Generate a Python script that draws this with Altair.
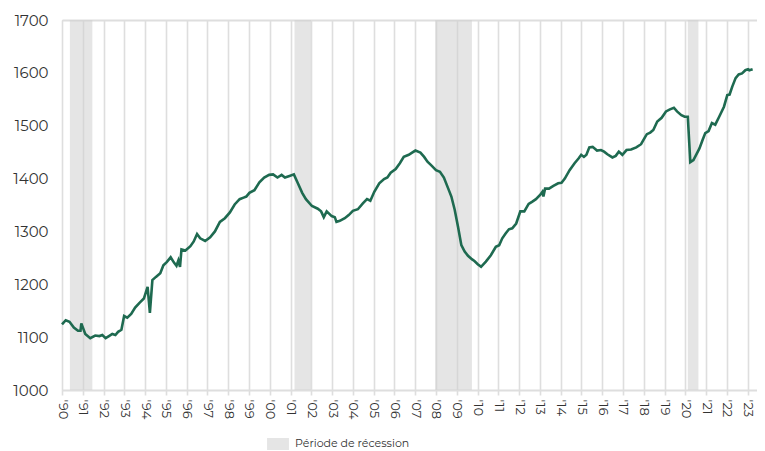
import altair as alt
import pandas as pd

# decimal years and values
years = [1990.00, 1990.18, 1990.36, 1990.57, 1990.77, 1990.89, 1990.93, 1991.12, 1991.36, 1991.60,
         1991.80, 1991.94, 1992.10, 1992.26, 1992.42, 1992.57, 1992.70, 1992.86, 1992.99, 1993.14,
         1993.33, 1993.52, 1993.73, 1993.94, 1994.12, 1994.23, 1994.35, 1994.52, 1994.73, 1994.88,
         1995.04, 1995.23, 1995.39, 1995.51, 1995.60, 1995.68, 1995.75, 1995.94, 1996.18, 1996.34,
         1996.50, 1996.65, 1996.89, 1997.13, 1997.36, 1997.60, 1997.84, 1998.08, 1998.31, 1998.55,
         1998.74, 1998.87, 1999.02, 1999.26, 1999.50, 1999.73, 1999.97, 2000.16, 2000.37, 2000.57,
         2000.73, 2000.95, 2001.16, 2001.32, 2001.56, 2001.74, 2002.03, 2002.31, 2002.47, 2002.60,
         2002.74, 2002.98, 2003.13, 2003.21, 2003.37, 2003.61, 2003.80, 2004.00, 2004.24, 2004.48,
         2004.68, 2004.84, 2005.03, 2005.27, 2005.50, 2005.66, 2005.82, 2006.06, 2006.26, 2006.45,
         2006.69, 2006.85, 2007.01, 2007.25, 2007.43, 2007.59, 2007.80, 2008.00, 2008.19, 2008.38,
         2008.59, 2008.74, 2008.90, 2009.06, 2009.22, 2009.38, 2009.54, 2009.74, 2009.85, 2010.01,
         2010.17, 2010.40, 2010.64, 2010.88, 2011.04, 2011.19, 2011.35, 2011.51, 2011.67, 2011.86,
         2012.06, 2012.25, 2012.46, 2012.62, 2012.81, 2013.01, 2013.12, 2013.17, 2013.25, 2013.44,
         2013.65, 2013.88, 2014.04, 2014.20, 2014.43, 2014.67, 2014.86, 2014.99, 2015.12, 2015.24,
         2015.38, 2015.54, 2015.75, 2015.94, 2016.09, 2016.25, 2016.49, 2016.65, 2016.80, 2016.97,
         2017.17, 2017.39, 2017.64, 2017.87, 2018.07, 2018.15, 2018.31, 2018.46, 2018.65, 2018.86,
         2019.07, 2019.26, 2019.45, 2019.60, 2019.81, 2019.97, 2020.12, 2020.24, 2020.39, 2020.52,
         2020.68, 2020.83, 2020.96, 2021.12, 2021.28, 2021.44, 2021.63, 2021.86, 2022.02, 2022.13,
         2022.26, 2022.42, 2022.57, 2022.73, 2022.89, 2023.02, 2023.08, 2023.24]

values = [1124, 1132, 1129, 1118, 1112, 1112, 1126, 1106, 1098, 1103,
          1102, 1104, 1098, 1102, 1106, 1104, 1110, 1114, 1140, 1137,
          1144, 1156, 1165, 1173, 1195, 1146, 1208, 1214, 1221, 1236,
          1242, 1251, 1241, 1235, 1245, 1233, 1266, 1264, 1272, 1281,
          1295, 1287, 1282, 1289, 1300, 1318, 1325, 1336, 1351, 1361,
          1364, 1366, 1373, 1378, 1393, 1402, 1407, 1408, 1402, 1407,
          1402, 1405, 1408, 1394, 1373, 1361, 1348, 1343, 1338, 1327,
          1338, 1329, 1327, 1318, 1320, 1325, 1331, 1339, 1342, 1353,
          1361, 1358, 1375, 1391, 1399, 1402, 1411, 1418, 1429, 1441,
          1445, 1449, 1453, 1449, 1441, 1432, 1424, 1416, 1413, 1402,
          1381, 1366, 1341, 1309, 1274, 1262, 1254, 1247, 1244, 1238,
          1233, 1243, 1255, 1271, 1274, 1287, 1296, 1304, 1306, 1315,
          1338, 1338, 1352, 1356, 1361, 1369, 1375, 1366, 1381, 1381,
          1386, 1391, 1392, 1400, 1416, 1429, 1438, 1445, 1441, 1445,
          1459, 1460, 1453, 1454, 1451, 1446, 1440, 1443, 1451, 1445,
          1454, 1455, 1459, 1465, 1479, 1484, 1487, 1492, 1508, 1515,
          1527, 1531, 1534, 1527, 1520, 1517, 1517, 1431, 1435, 1445,
          1457, 1473, 1486, 1490, 1505, 1502, 1517, 1536, 1558, 1559,
          1574, 1590, 1597, 1599, 1605, 1607, 1605, 1607]

rec_start = [1990.38, 2001.19, 2007.96, 2020.12]
rec_end = [1991.46, 2001.98, 2009.73, 2020.63]
rec_label = ["Période de récession"] * 4

tick_years = list(range(1990, 2024))
y_ticks = [1000, 1100, 1200, 1300, 1400, 1500, 1600, 1700]

line_df = pd.DataFrame({"year": years, "value": values})
rec_df = pd.DataFrame({"start": rec_start, "end": rec_end, "label": rec_label})

FONT = "Montserrat, Inter, sans-serif"
GRID = "#dedede"

x_scale = alt.Scale(domain=[1990, 2023.45], nice=False, zero=False)
y_scale = alt.Scale(domain=[1000, 1700], nice=False, zero=False)

x_axis = alt.Axis(
    values=tick_years,
    tickCount=34,
    labelExpr="\"'\" + slice(toString(datum.value), 2)",
    labelAngle=90,
    labelOverlap=False,
    labelFontSize=13,
    labelColor="#333333",
    labelFont=FONT,
    labelPadding=4,
    grid=True,
    gridColor=GRID,
    gridWidth=1.6,
    domainColor=GRID,
    domainWidth=2,
    tickColor=GRID,
    tickWidth=1.6,
    tickSize=5,
    title=None,
)

y_axis = alt.Axis(
    values=y_ticks,
    format="d",
    labelFontSize=15,
    labelColor="#333333",
    labelFont=FONT,
    labelPadding=14,
    domain=False,
    ticks=False,
    grid=True,
    gridColor=GRID,
    gridWidth=2,
    gridOpacity={"condition": {"test": "datum.value === 1700", "value": 1}, "value": 0},
    title=None,
)

rec = alt.Chart(rec_df).mark_rect(opacity=0.55).encode(
    x=alt.X("start:Q", scale=x_scale, axis=x_axis),
    x2="end:Q",
    y=alt.datum(1000, scale=y_scale, axis=y_axis),
    y2=alt.datum(1700),
    color=alt.Color(
        "label:N",
        scale=alt.Scale(range=["#d0d0d0"]),
        legend=alt.Legend(
            title=None,
            orient="none",
            legendX=205,
            legendY=413,
            padding=0,
            symbolType="M-1,-0.55H1V0.55H-1Z",
            symbolSize=480,
            symbolStrokeWidth=0,
            symbolOpacity=0.55,
            labelFontSize=11,
            labelFont=FONT,
            labelColor="#333333",
            labelOffset=6,
        ),
    ),
)

line = alt.Chart(line_df).mark_line(color="#1e6a50", strokeWidth=2.6).encode(
    x=alt.X("year:Q", scale=x_scale, axis=x_axis),
    y=alt.Y("value:Q", scale=y_scale, axis=y_axis),
)

chart = (
    alt.layer(rec, line)
    .properties(
        width=695,
        height=370,
        autosize=alt.AutoSizeParams(type="none"),
        padding={"left": 54, "top": 12, "right": 0, "bottom": 61},
    )
    .configure_view(stroke=None)
    .configure(background="white")
)

chart.save("out.html", embed_options={"renderer": "svg", "actions": False})
